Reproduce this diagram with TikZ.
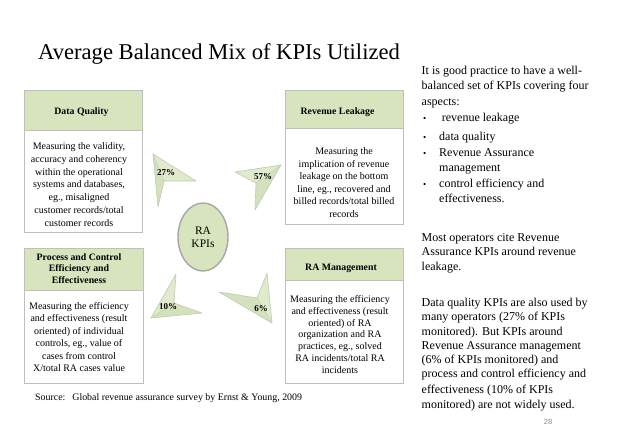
\documentclass[tikz,border=0pt]{standalone}
\usepackage{fontspec}
\setmainfont{Liberation Serif}
\setsansfont{Liberation Sans}
\usetikzlibrary{shapes.geometric}
\definecolor{hdrgreen}{HTML}{D7E4BD}
\definecolor{boxgray}{HTML}{BFBFBF}
\definecolor{dartA}{HTML}{E0EACD}
\definecolor{dartB}{HTML}{D4E1BD}
\definecolor{dartedge}{HTML}{BFCBAE}
\definecolor{circedge}{HTML}{A6A6A6}
\definecolor{pagegray}{HTML}{8C8C8C}
\newcommand\kpidart[4]{%
  \fill[dartA] #1 -- #2 -- #3 -- cycle;
  \fill[dartB] #1 -- #3 -- #4 -- cycle;
  \draw[dartedge, line width=0.6pt, line join=round] #1 -- #2 -- #3 -- #4 -- cycle;
  \draw[dartedge, line width=0.4pt] #1 -- #3;}
\begin{document}
\begin{tikzpicture}[x=1pt,y=-1pt,
  hdrbox/.style={draw=boxgray, fill=hdrgreen, line width=0.6pt, minimum width=118pt, inner sep=0pt},
  bodybox/.style={draw=boxgray, fill=white, line width=0.6pt, minimum width=118pt, inner sep=0pt},
  hdrtxt/.style={font=\bfseries\fontsize{9.8}{11.5}\selectfont, align=center, inner sep=0pt},
  bodytxt/.style={font=\fontsize{10}{12.6}\selectfont, align=center, inner sep=0pt},
  pct/.style={font=\bfseries\fontsize{9}{10}\selectfont, inner sep=0pt},
  rtxt/.style={anchor=base west, inner sep=0pt, font=\fontsize{12}{14}\selectfont},
  bul/.style={anchor=base west, inner sep=0pt, font=\fontsize{9}{10}\selectfont}]
\useasboundingbox[fill=white] (0,0) rectangle (638,442);

% title
\node[anchor=base west, inner sep=0pt, font=\fontsize{22.6}{26}\selectfont] (title) at (38,59) {Average Balanced Mix of KPIs Utilized};

% boxes
\node[bodybox, minimum height=102pt] (dqb) at (83,181) {};
\node[hdrbox, minimum height=40pt] (dqh) at (83,110) {};
\node[bodybox, minimum height=96pt] (rlb) at (344,176) {};
\node[hdrbox, minimum height=38pt] (rlh) at (344,109) {};
\node[bodybox, minimum width=119pt, minimum height=93pt] (pcb) at (83.5,336.5) {};
\node[hdrbox, minimum width=119pt, minimum height=42pt] (pch) at (83.5,269) {};
\node[bodybox, minimum height=103pt] (ramb) at (344,331.5) {};
\node[hdrbox, minimum height=32pt] (ramh) at (344,264) {};

% header texts
\node[hdrtxt] (dqt) at (81.5,112) {Data Quality};
\node[hdrtxt] (rlt) at (337.5,112.5) {Revenue Leakage};
\node[hdrtxt] (pct) at (79,268.5) {Process and Control\\Efficiency and\\Effectiveness};
\node[hdrtxt] (ramt) at (341,268) {RA Management};

% body texts
\node[bodytxt, font=\fontsize{10}{12.8}\selectfont] (dqx) at (79,184.5) {Measuring the validity,\\accuracy and coherency\\within the operational\\systems and databases,\\eg., misaligned\\customer records/total\\customer records};
\node[bodytxt] (rlx) at (344,182.5) {Measuring the\\implication of revenue\\leakage on the bottom\\line, eg., recovered and\\billed records/total billed\\records};
\node[bodytxt, font=\fontsize{10}{12.4}\selectfont] (pcx) at (79,337) {Measuring the efficiency\\and effectiveness (result\\oriented) of individual\\controls, eg., value of\\cases from control\\X/total RA cases value};
\node[bodytxt, font=\fontsize{10}{11.8}\selectfont] (ramx) at (340,334.5) {Measuring the efficiency\\and effectiveness (result\\oriented) of RA\\organization and RA\\practices, eg., solved\\RA incidents/total RA\\incidents};

% centre
\node[ellipse, draw=circedge, line width=1.4pt, fill=hdrgreen, minimum width=50pt, minimum height=68pt, inner sep=0pt, align=center, font=\fontsize{11.5}{13}\selectfont] (ra) at (203,237) {RA\\KPIs};

% darts
\kpidart{(153,154)}{(196,181)}{(164,181)}{(158,207)}
\kpidart{(281,165)}{(235,172)}{(256,183)}{(255,210)}
\kpidart{(151,318)}{(176,274)}{(174,303)}{(202,313)}
\kpidart{(272,323)}{(267,273)}{(257,298)}{(219,292)}
\node[pct] (p27) at (166,173) {27\%};
\node[pct] (p57) at (263,177) {57\%};
\node[pct] (p10) at (168,307) {10\%};
\node[pct] (p6) at (261,309) {6\%};

% source
\node[anchor=base west, inner sep=0pt, font=\fontsize{9.9}{12}\selectfont] (src) at (35,400) {Source:\hspace{0.7em}Global revenue assurance survey by Ernst \& Young, 2009};

% right text
\node[rtxt] (r1) at (421.5,74.5) {It is good practice to have a well-};
\node[rtxt] (r2) at (421.5,89) {balanced set of KPIs covering four};
\node[rtxt] (r3) at (421.5,105) {aspects:};
\node[bul] (b1) at (423,121.7) {\textbullet};
\node[rtxt] (r4) at (441.7,121.7) {revenue leakage};
\node[bul] (b2) at (423,140.4) {\textbullet};
\node[rtxt] (r5) at (439,140.4) {data quality};
\node[bul] (b3) at (423,156) {\textbullet};
\node[rtxt] (r6) at (439,156) {Revenue Assurance};
\node[rtxt] (r7) at (439,171) {management};
\node[bul] (b4) at (423,187) {\textbullet};
\node[rtxt] (r8) at (439,187) {control efficiency and};
\node[rtxt] (r9) at (439,202.7) {effectiveness.};
\node[rtxt] (r10) at (421.5,241.7) {Most operators cite Revenue};
\node[rtxt] (r11) at (421.5,255.4) {Assurance KPIs around revenue};
\node[rtxt] (r12) at (421.5,270) {leakage.};
\node[rtxt] (r13) at (421.5,306.7) {Data quality KPIs are also used by};
\node[rtxt] (r14) at (421.5,320.4) {many operators (27\% of KPIs};
\node[rtxt] (r15) at (421.5,335) {monitored). But KPIs around};
\node[rtxt] (r16) at (421.5,349.4) {Revenue Assurance management};
\node[rtxt] (r17) at (421.5,363.7) {(6\% of KPIs monitored) and};
\node[rtxt] (r18) at (421.5,377.7) {process and control efficiency and};
\node[rtxt] (r19) at (421.5,393.4) {effectiveness (10\% of KPIs};
\node[rtxt] (r20) at (421.5,408.4) {monitored) are not widely used.};
\node[inner sep=0pt, font=\sffamily\fontsize{7.5}{9}\selectfont, text=pagegray] (pg) at (548,422) {28};
\end{tikzpicture}
\end{document}
